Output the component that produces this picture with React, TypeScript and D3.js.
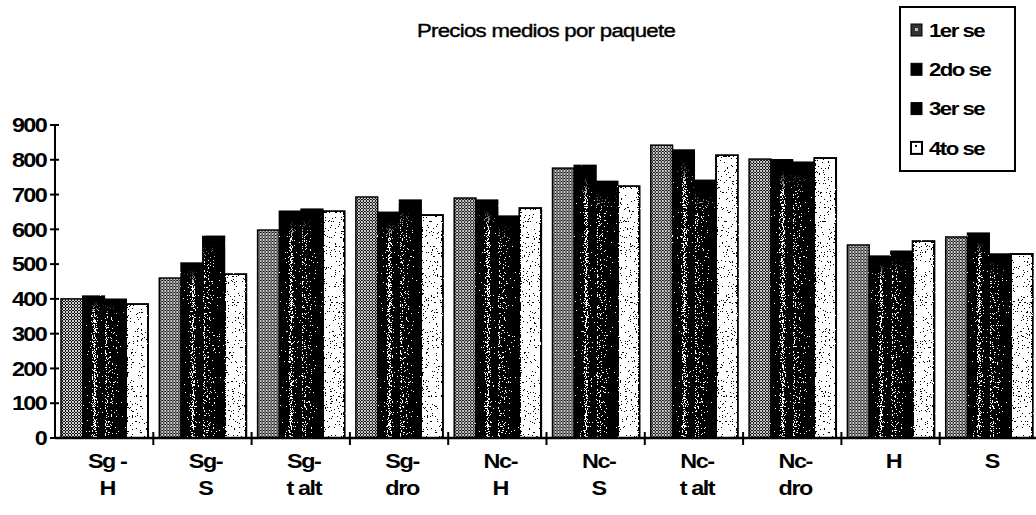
import React from "react";
import * as d3 from "d3";

// Category labels, each split into the lines drawn under the axis
const categoryLines: string[][] = [
  ["Sg -", "H"],
  ["Sg-", "S"],
  ["Sg-", "t alt"],
  ["Sg-", "dro"],
  ["Nc-", "H"],
  ["Nc-", "S"],
  ["Nc-", "t alt"],
  ["Nc-", "dro"],
  ["H"],
  ["S"],
];

const seriesNames = ["1er se", "2do se", "3er se", "4to se"];

// Average price per package, one array per semester
const primerSe = [400, 460, 598, 693, 690, 776, 842, 802, 555, 578];
const segundoSe = [408, 503, 652, 649, 684, 784, 828, 800, 523, 589];
const tercerSe = [399, 580, 658, 684, 638, 738, 741, 793, 537, 529];
const cuartoSe = [385, 471, 652, 641, 661, 724, 813, 805, 566, 529];

const yTicks = [0, 100, 200, 300, 400, 500, 600, 700, 800, 900];

const W = 1036;
const H = 515;
const FONT = "'Liberation Sans', Arial, sans-serif";
const STRETCH = 1.17;

const seriesValues = [primerSe, segundoSe, tercerSe, cuartoSe];
const seriesFill = ["url(#hatch)", "url(#gradA)", "url(#gradB)", "url(#gradC)"];
const seriesFilter = [undefined, "url(#grain)", "url(#grain)", "url(#grain)"];

// Text drawn with the wide, tightly packed lettering of the chart
function WideText(props: {
  x: number;
  y: number;
  anchor?: "start" | "middle" | "end";
  size: number;
  bold?: boolean;
  spacing?: number;
  dy?: string;
  children: React.ReactNode;
}) {
  const { x, y, anchor = "start", size, bold = true, spacing = -1, dy, children } = props;
  return (
    <g transform={`translate(${x},${y}) scale(${STRETCH},1)`}>
      <text
        x={0}
        y={0}
        dy={dy}
        textAnchor={anchor}
        fontFamily={FONT}
        fontWeight={bold ? "bold" : "normal"}
        fontSize={size}
        letterSpacing={spacing}
        fill="#000"
        stroke={bold ? "none" : "#000"}
        strokeWidth={bold ? 0 : 0.4}
      >
        {children}
      </text>
    </g>
  );
}

export default function App() {
  const axisX = 55;
  const x0 = d3
    .scaleBand<number>()
    .domain(d3.range(categoryLines.length))
    .range([axisX, 1038])
    .padding(0);
  const x1 = d3
    .scaleBand<number>()
    .domain(d3.range(seriesNames.length))
    .range([6, 93])
    .padding(0);
  const y = d3.scaleLinear().domain([0, 900]).range([438, 125]);

  return (
    <svg
      width={W}
      height={H}
      style={{ position: "absolute", left: 0, top: 0, background: "#fff" }}
    >
      <defs>
        <pattern id="hatch" width="3" height="3" patternUnits="userSpaceOnUse">
          <rect width="3" height="3" fill="#cfcfcf" />
          <rect x="1" y="0" width="1" height="1" fill="#111" />
          <rect x="0" y="1" width="1" height="1" fill="#111" />
          <rect x="2" y="1" width="1" height="1" fill="#111" />
          <rect x="1" y="2" width="1" height="1" fill="#111" />
        </pattern>
        <linearGradient id="gradA" x1="0" x2="1" y1="0" y2="0">
          <stop offset="0" stopColor="#000" />
          <stop offset="0.35" stopColor="#141414" />
          <stop offset="0.55" stopColor="#8a8a8a" />
          <stop offset="0.72" stopColor="#1e1e1e" />
          <stop offset="1" stopColor="#000" />
        </linearGradient>
        <linearGradient id="gradB" x1="0" x2="1" y1="0" y2="0">
          <stop offset="0" stopColor="#b0b0b0" />
          <stop offset="0.1" stopColor="#4a4a4a" />
          <stop offset="0.4" stopColor="#333" />
          <stop offset="0.7" stopColor="#0a0a0a" />
          <stop offset="1" stopColor="#000" />
        </linearGradient>
        <linearGradient id="gradC" x1="0" x2="1" y1="0" y2="0">
          <stop offset="0" stopColor="#d6d6d6" />
          <stop offset="1" stopColor="#d6d6d6" />
        </linearGradient>
        <linearGradient id="topShade" x1="0" x2="0" y1="0" y2="1">
          <stop offset="0" stopColor="#000" stopOpacity="1" />
          <stop offset="0.04" stopColor="#000" stopOpacity="1" />
          <stop offset="0.12" stopColor="#000" stopOpacity="0" />
          <stop offset="1" stopColor="#000" stopOpacity="0" />
        </linearGradient>
        <filter
          id="grain"
          filterUnits="userSpaceOnUse"
          x="0"
          y="0"
          width={W}
          height={H}
          colorInterpolationFilters="sRGB"
        >
          <feTurbulence type="fractalNoise" baseFrequency="0.8" numOctaves="2" seed="4" result="noise" />
          <feColorMatrix
            in="noise"
            type="matrix"
            values="1 0 0 0 0  1 0 0 0 0  1 0 0 0 0  0 0 0 0 1"
            result="gray"
          />
          <feComponentTransfer in="gray" result="n">
            <feFuncR type="linear" slope="1.8" intercept="-0.4" />
            <feFuncG type="linear" slope="1.8" intercept="-0.4" />
            <feFuncB type="linear" slope="1.8" intercept="-0.4" />
          </feComponentTransfer>
          <feComposite in="SourceGraphic" in2="n" operator="arithmetic" k1="0" k2="1" k3="1" k4="-0.5" result="sum" />
          <feComponentTransfer in="sum" result="dots">
            <feFuncR type="discrete" tableValues="0 1" />
            <feFuncG type="discrete" tableValues="0 1" />
            <feFuncB type="discrete" tableValues="0 1" />
          </feComponentTransfer>
          <feComposite in="dots" in2="SourceAlpha" operator="in" />
        </filter>
      </defs>

      {/* Title */}
      <WideText x={546} y={37} anchor="middle" size={19} bold={false} spacing={-0.6}>
        Precios medios por paquete
      </WideText>

      {/* Bars */}
      {categoryLines.map((_, ci) => (
        <g key={ci} transform={`translate(${x0(ci)},0)`}>
          {seriesValues.map((vals, si) => (
            <g key={si}>
              <rect
                x={x1(si)}
                y={y(vals[ci])}
                width={x1.bandwidth()}
                height={y(0) - y(vals[ci])}
                fill={seriesFill[si]}
                stroke="#000"
                strokeWidth={si === 3 ? 2 : 1.5}
                filter={seriesFilter[si]}
              />
              {(si === 1 || si === 2) && (
                <rect
                  x={x1(si)}
                  y={y(vals[ci])}
                  width={x1.bandwidth()}
                  height={y(0) - y(vals[ci])}
                  fill="url(#topShade)"
                />
              )}
            </g>
          ))}
        </g>
      ))}

      {/* Y axis */}
      <line x1={axisX} x2={axisX} y1={y(900)} y2={y(0)} stroke="#000" strokeWidth={2} />
      {yTicks.map((t) => (
        <g key={t}>
          <line x1={axisX - 5} x2={axisX + 4} y1={y(t)} y2={y(t)} stroke="#000" strokeWidth={2} />
          <WideText x={46} y={y(t)} dy="0.36em" anchor="end" size={20} spacing={-1.4}>
            {t}
          </WideText>
        </g>
      ))}

      {/* X axis */}
      <line x1={axisX} x2={W} y1={y(0)} y2={y(0)} stroke="#000" strokeWidth={2.5} />
      {categoryLines.map((_, ci) => (
        <line
          key={ci}
          x1={(x0(ci) as number) + x0.bandwidth()}
          x2={(x0(ci) as number) + x0.bandwidth()}
          y1={y(0) - 6}
          y2={y(0) + 7}
          stroke="#000"
          strokeWidth={2}
        />
      ))}
      {categoryLines.map((lines, ci) =>
        lines.map((ln, li) => (
          <WideText
            key={`${ci}-${li}`}
            x={(x0(ci) as number) + x0.bandwidth() / 2 + 3}
            y={468 + li * 27}
            anchor="middle"
            size={20}
            spacing={-1.2}
          >
            {ln}
          </WideText>
        ))
      )}

      {/* Legend */}
      <g>
        <rect x={900} y={7} width={115} height={164} fill="#fff" stroke="#000" strokeWidth={2} />
        {seriesNames.map((name, si) => {
          const cy = 30 + si * 39.3;
          return (
            <g key={name}>
              <rect
                x={911}
                y={cy - 6}
                width={11}
                height={12}
                fill={si === 0 ? "#333" : si === 3 ? "#fff" : "#000"}
                stroke="#000"
                strokeWidth={si === 3 ? 2 : 1}
              />
              {si === 0 && <rect x={915} y={cy - 2} width={3} height={3} fill="#bbb" />}
              {si === 3 && <rect x={915} y={cy - 3} width={2} height={2} fill="#000" />}
              <WideText x={929} y={cy} dy="0.36em" size={19} spacing={-1.3}>
                {name}
              </WideText>
            </g>
          );
        })}
      </g>
    </svg>
  );
}
